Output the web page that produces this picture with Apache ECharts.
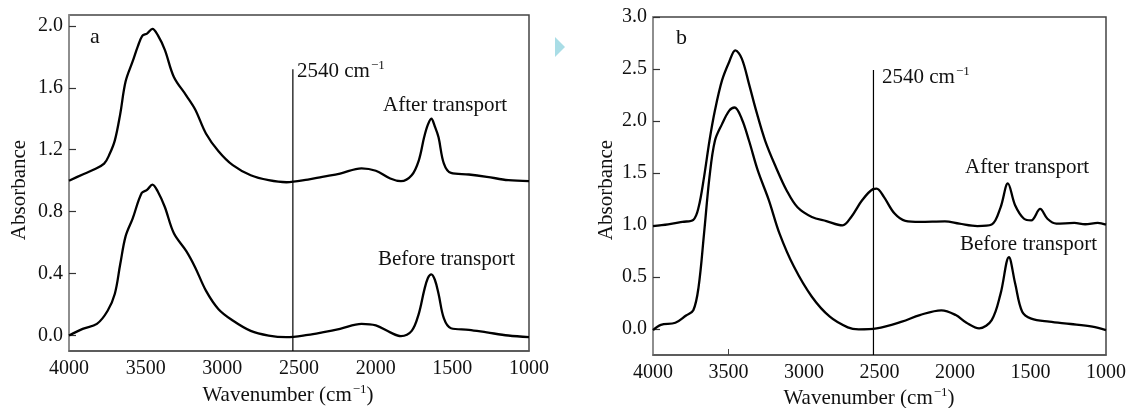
<!DOCTYPE html>
<html>
<head>
<meta charset="utf-8">
<script src="https://cdn.jsdelivr.net/npm/echarts@6/dist/echarts.min.js"></script>
<style>
html,body{margin:0;padding:0;background:#fff;}
#c{width:1129px;height:408px;}
</style>
</head>
<body>
<div id="c"></div>
<script>
// ---- Panel a data ----
var waveAAfter = [4000,3911,3841,3771,3736,3701,3666,3631,3585,3550,3522,3491,3456,3421,3375,3316,3235,3177,3107,3025,2932,2815,2698,2582,2442,2348,2232,2092,1999,1905,1835,1765,1719,1684,1660,1637,1614,1590,1555,1509,1392,1275,1135,1000];
var absAAfter  = [1.0,1.04,1.07,1.11,1.17,1.26,1.43,1.64,1.77,1.87,1.935,1.95,1.98,1.94,1.845,1.67,1.55,1.46,1.305,1.19,1.10,1.035,1.003,0.99,1.007,1.025,1.046,1.08,1.064,1.014,0.997,1.035,1.13,1.28,1.36,1.40,1.35,1.28,1.11,1.05,1.04,1.025,1.003,0.997];
var waveABefore = [4000,3911,3818,3748,3701,3666,3631,3585,3526,3491,3456,3421,3375,3316,3235,3177,3107,3025,2932,2815,2698,2582,2442,2348,2232,2092,1999,1905,1835,1765,1719,1684,1660,1637,1614,1590,1555,1509,1392,1275,1135,1000];
var absABefore  = [0.0,0.043,0.075,0.16,0.27,0.46,0.64,0.755,0.92,0.94,0.975,0.93,0.83,0.66,0.545,0.44,0.29,0.17,0.097,0.03,0.0,-0.01,0.004,0.02,0.043,0.075,0.065,0.02,-0.004,0.03,0.14,0.29,0.37,0.395,0.36,0.27,0.11,0.047,0.037,0.02,0.0,-0.01];
// ---- Panel b data ----
var waveBAfter = [4000,3900,3805,3733,3698,3662,3626,3590,3543,3495,3455,3412,3364,3317,3257,3186,3114,3043,2948,2852,2745,2686,2614,2543,2519,2471,2400,2329,2233,2067,1971,1852,1757,1698,1650,1602,1543,1495,1436,1388,1329,1210,1138,1055,1000];
var absBAfter  = [0.99,1.005,1.03,1.05,1.17,1.46,1.81,2.10,2.39,2.57,2.68,2.60,2.355,2.10,1.81,1.556,1.33,1.17,1.077,1.038,0.997,1.08,1.24,1.345,1.35,1.27,1.11,1.04,1.03,1.035,1.013,0.99,1.005,1.17,1.40,1.19,1.06,1.045,1.155,1.06,1.013,1.02,1.007,1.02,1.003];
var waveBBefore = [4000,3948,3852,3781,3733,3698,3662,3626,3590,3543,3495,3460,3412,3364,3305,3233,3162,3067,2948,2829,2710,2638,2519,2352,2233,2090,1995,1924,1840,1757,1698,1643,1602,1555,1495,1376,1233,1090,1000];
var absBBefore  = [-0.01,0.04,0.06,0.13,0.18,0.405,0.917,1.46,1.81,1.97,2.10,2.13,2.02,1.81,1.52,1.24,0.917,0.60,0.31,0.118,0.016,-0.003,0.006,0.07,0.134,0.18,0.134,0.06,0.006,0.086,0.34,0.69,0.44,0.166,0.10,0.07,0.048,0.022,-0.01];
// ---- ticks ----
var xTicks = [4000,3500,3000,2500,2000,1500,1000];
var yTicksA = [0.0,0.4,0.8,1.2,1.6,2.0];
var yTicksB = [0.0,0.5,1.0,1.5,2.0,2.5,3.0];
var marker = 2540;

function pairs(w, a){ return w.map(function(v,i){ return [v, a[i]]; }); }

var FONT = '"Liberation Serif", "Times New Roman", serif';
var chart = echarts.init(document.getElementById('c'), null, {renderer:'canvas'});

function xAxisDef(idx, tickVals){
  return {
    type:'value', gridIndex:idx, inverse:true, min:1000, max:4000, interval:500,
    axisLine:{show:true, onZero:false, lineStyle:{color:'#555', width:1.5}},
    axisTick:{show: tickVals.length>0, inside:true, length:6, customValues: tickVals, lineStyle:{color:'#444'}},
    axisLabel:{show:true, customValues: xTicks, color:'#111', fontFamily:FONT, fontSize:20, margin:8,
      formatter:function(v){ return String(Math.round(v)); }},
    splitLine:{show:false}
  };
}
function yAxisDef(idx, mn, mx, ticks){
  return {
    type:'value', gridIndex:idx, min:mn, max:mx,
    axisLine:{show:true, onZero:false, lineStyle:{color:'#999', width:1.5}},
    axisTick:{show:true, inside:true, length:7, customValues:ticks, lineStyle:{color:'#333', width:1.2}},
    axisLabel:{show:true, customValues:ticks, color:'#111', fontFamily:FONT, fontSize:20, margin:6,
      formatter:function(v){ return v.toFixed(1); }},
    splitLine:{show:false}
  };
}
var lineStyle = {color:'#000', width:2.3};
function seriesDef(idx, data){
  return {type:'line', xAxisIndex:idx, yAxisIndex:idx, data:data, smooth:0.35, symbol:'none',
    lineStyle:lineStyle, z:3, silent:true};
}
function markerSeries(idx, top, bottom){
  return {type:'line', xAxisIndex:idx, yAxisIndex:idx, data:[[marker, top],[marker,bottom]], symbol:'none',
    lineStyle:{color:'#000', width:1.2}, z:2, silent:true};
}
function txt(x, y, s, extra){
  var o = {type:'text', x:x, y:y, silent:true, z:10, style:{text:s, font:'21px ' + FONT, fill:'#111',
    align:'left', verticalAlign:'middle', textAlign:'left', textVerticalAlign:'middle',
    rich:{ s:{fontSize:13, fontFamily:FONT, fill:'#111', verticalAlign:'top', padding:[0,0,10,1]} } }};
  if (extra){ for (var k in extra){ if(k==='style'){ for (var j in extra.style) o.style[j]=extra.style[j]; } else o[k]=extra[k]; } }
  return o;
}

var option = {
  backgroundColor:'#fff',
  animation:false,
  grid:[
    {left:69, top:15, width:460, height:336, show:true, borderColor:'#444', borderWidth:1.5, backgroundColor:'transparent'},
    {left:653, top:17, width:458, height:338, show:true, borderColor:'#444', borderWidth:1.5, backgroundColor:'transparent'}
  ],
  xAxis:[ xAxisDef(0, []), xAxisDef(1, [3500]) ],
  yAxis:[ yAxisDef(0, -0.1, 2.07, yTicksA), yAxisDef(1, -0.25, 3.0, yTicksB) ],
  series:[
    seriesDef(0, pairs(waveAAfter, absAAfter)),
    seriesDef(0, pairs(waveABefore, absABefore)),
    seriesDef(1, pairs(waveBAfter, absBAfter)),
    seriesDef(1, pairs(waveBBefore, absBBefore)),
    markerSeries(0, 1.72, -0.1),
    markerSeries(1, 2.49, -0.25)
  ],
  graphic:[
    txt(90, 37, 'a', {style:{font:'22px ' + FONT}}),
    txt(676, 38, 'b', {style:{font:'22px ' + FONT}}),
    txt(297, 71, '2540 cm{s|\u22121}'),
    txt(882, 77, '2540 cm{s|\u22121}'),
    txt(383, 105, 'After transport'),
    txt(378, 259, 'Before transport'),
    txt(965, 167, 'After transport'),
    txt(960, 244, 'Before transport'),
    txt(19, 190, 'Absorbance', {rotation:Math.PI/2, style:{align:'center', textAlign:'center'}}),
    txt(606, 190, 'Absorbance', {rotation:Math.PI/2, style:{align:'center', textAlign:'center'}}),
    txt(288, 395, 'Wavenumber (cm{s|\u22121})', {style:{align:'center', textAlign:'center'}}),
    txt(869, 398, 'Wavenumber (cm{s|\u22121})', {style:{align:'center', textAlign:'center'}}),
    {type:'polygon', silent:true, shape:{points:[[555,37],[565,47],[555,57]]}, style:{fill:'#a9dde6'}}
  ]
};
chart.setOption(option);
</script>
</body>
</html>
